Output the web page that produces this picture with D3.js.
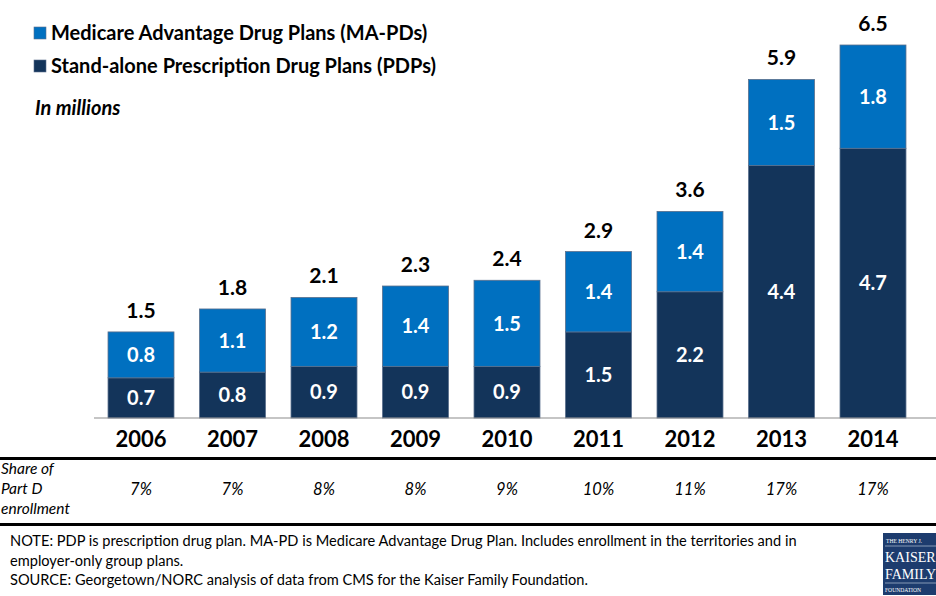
<!DOCTYPE html>
<html>
<head>
<meta charset="utf-8">
<script src="https://cdn.jsdelivr.net/npm/d3@7"></script>
<style>
  html, body { margin: 0; padding: 0; background: #fff; }
  svg { display: block; font-family: Lato, "Open Sans", sans-serif; }
</style>
</head>
<body>
<svg id="chart" width="936" height="596"></svg>
<script>
// Part D enrollment by plan type, in millions
const years = ["2006", "2007", "2008", "2009", "2010", "2011", "2012", "2013", "2014"];
const pdp = [0.7, 0.8, 0.9, 0.9, 0.9, 1.5, 2.2, 4.4, 4.7];
const mapd = [0.8, 1.1, 1.2, 1.4, 1.5, 1.4, 1.4, 1.5, 1.8];
const totals = [1.5, 1.8, 2.1, 2.3, 2.4, 2.9, 3.6, 5.9, 6.5];
const shares = ["7%", "7%", "8%", "8%", "9%", "10%", "11%", "17%", "17%"];

const seriesNames = ["Medicare Advantage Drug Plans (MA-PDs)", "Stand-alone Prescription Drug Plans (PDPs)"];
const colMAPD = "#0070C0";
const colPDP = "#13345A";

const svg = d3.select("#chart");

const x = d3.scaleBand().domain(years).range([94.3, 919.7]).paddingInner(0.279).paddingOuter(0.15);
const y = d3.scaleLinear().domain([0, 6.5]).range([418, 45]);

const rows = years.map((yr, i) => ({ year: yr, pdp: pdp[i], mapd: mapd[i], total: totals[i], share: shares[i] }));
const stack = d3.stack().keys(["pdp", "mapd"])(rows);
const colors = { pdp: colPDP, mapd: colMAPD };

// stacked bars
const layers = svg.append("g").selectAll("g").data(stack).join("g")
  .attr("fill", d => colors[d.key]);
layers.selectAll("rect").data(d => d).join("rect")
  .attr("x", d => x(d.data.year))
  .attr("y", d => y(d[1]))
  .attr("width", x.bandwidth())
  .attr("height", d => y(d[0]) - y(d[1]))
  .attr("stroke", "#5a6f8c")
  .attr("stroke-width", 0.8);

// segment value labels
layers.each(function(layer) {
  d3.select(this).selectAll("text").data(layer).join("text")
    .attr("x", d => x(d.data.year) + x.bandwidth() / 2)
    .attr("y", d => (y(d[0]) + y(d[1])) / 2)
    .attr("dy", "0.36em")
    .attr("text-anchor", "middle")
    .attr("fill", "#fff")
    .attr("font-weight", 700)
    .attr("font-size", 20)
    .text(d => d3.format(".1f")(d[1] - d[0]));
});

// totals above each bar
svg.append("g").selectAll("text").data(rows).join("text")
  .attr("x", d => x(d.year) + x.bandwidth() / 2)
  .attr("y", d => y(d.pdp + d.mapd) - 14)
  .attr("text-anchor", "middle")
  .attr("font-weight", 700)
  .attr("font-size", 21)
  .attr("fill", "#000")
  .text(d => d3.format(".1f")(d.total));

// baseline axis with year labels
const xAxis = d3.axisBottom(x).tickSize(0).tickPadding(13);
const ax = svg.append("g").attr("transform", "translate(0,418)").call(xAxis);
ax.select(".domain").attr("stroke", "#8c8c8c").attr("stroke-width", 1.2)
  .attr("d", "M94,0H936");
ax.selectAll("text").attr("font-size", 22).attr("font-weight", 700).attr("fill", "#000")
  .attr("font-family", "Lato, 'Open Sans', sans-serif");

// table rules
svg.append("line").attr("x1", 0).attr("x2", 936).attr("y1", 458.5).attr("y2", 458.5)
  .attr("stroke", "#000").attr("stroke-width", 3);
svg.append("line").attr("x1", 0).attr("x2", 936).attr("y1", 524.5).attr("y2", 524.5)
  .attr("stroke", "#000").attr("stroke-width", 3);

// share row
const rowLabel = svg.append("text").attr("font-style", "italic").attr("font-size", 15.5).attr("fill", "#000");
["Share of", "Part D", "enrollment"].forEach((t, i) => {
  rowLabel.append("tspan").attr("x", 1).attr("y", 474 + i * 20).text(t);
});
svg.append("g").selectAll("text").data(rows).join("text")
  .attr("x", d => x(d.year) + x.bandwidth() / 2)
  .attr("y", 495)
  .attr("text-anchor", "middle")
  .attr("font-style", "italic")
  .attr("font-size", 16.5)
  .text(d => d.share);

// legend
const legend = svg.append("g");
[colMAPD, colPDP].forEach((c, i) => {
  legend.append("rect").attr("x", 34).attr("y", 27 + i * 33).attr("width", 12).attr("height", 12)
    .attr("fill", c).attr("stroke", "#5a6f8c").attr("stroke-width", 0.6);
  legend.append("text").attr("x", 51).attr("y", 40 + i * 33)
    .attr("font-weight", 700).attr("font-size", 20).attr("fill", "#000")
    .text(seriesNames[i]);
});
svg.append("text").attr("x", 35).attr("y", 115)
  .attr("font-weight", 700).attr("font-style", "italic").attr("font-size", 20)
  .text("In millions");

// notes
const notes = [
  "NOTE: PDP is prescription drug plan. MA-PD is Medicare Advantage Drug Plan. Includes enrollment in the territories and in",
  "employer-only group plans.",
  "SOURCE: Georgetown/NORC analysis of data from CMS for the Kaiser Family Foundation."
];
svg.append("g").selectAll("text").data(notes).join("text")
  .attr("x", 10).attr("y", (d, i) => 546 + i * 19.5)
  .attr("font-size", 14.6).attr("fill", "#000")
  .text(d => d);

// foundation logo
const logo = svg.append("g").attr("transform", "translate(883,533)");
logo.append("rect").attr("width", 53).attr("height", 62).attr("fill", "#1d3c6e");
const serif = "Liberation Serif, serif";
logo.append("text").attr("x", 3).attr("y", 10).attr("fill", "#fff")
  .attr("font-family", serif).attr("font-size", 5.6).text("THE HENRY J.");
logo.append("line").attr("x1", 2).attr("x2", 53).attr("y1", 13).attr("y2", 13).attr("stroke", "#cfd8e6").attr("stroke-width", 0.6);
logo.append("text").attr("x", 2).attr("y", 29).attr("fill", "#fff")
  .attr("font-family", serif).attr("font-size", 14).text("KAISER");
logo.append("text").attr("x", 2).attr("y", 46).attr("fill", "#fff")
  .attr("font-family", serif).attr("font-size", 14).text("FAMILY");
logo.append("line").attr("x1", 2).attr("x2", 53).attr("y1", 50).attr("y2", 50).attr("stroke", "#cfd8e6").attr("stroke-width", 0.6);
logo.append("text").attr("x", 2).attr("y", 59).attr("fill", "#fff")
  .attr("font-family", serif).attr("font-size", 5.6).text("FOUNDATION");
</script>
</body>
</html>
